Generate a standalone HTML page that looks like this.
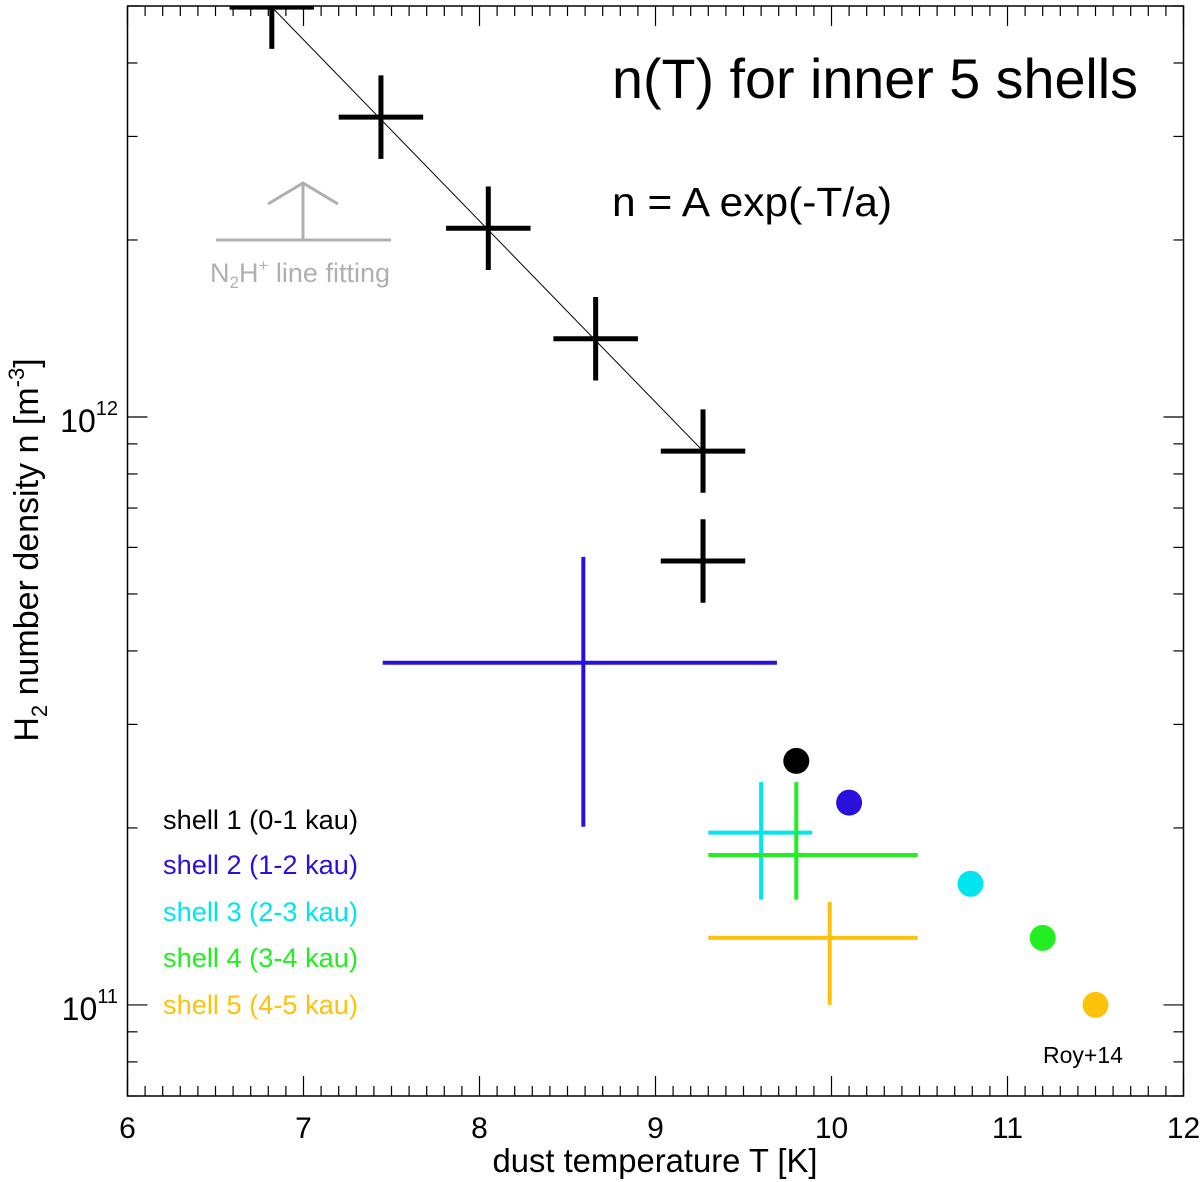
<!DOCTYPE html>
<html><head><meta charset="utf-8"><style>body{margin:0;background:#fff}svg{display:block;font-family:"Liberation Sans",sans-serif}</style></head>
<body>
<svg id="c" width="1200" height="1182" viewBox="0 0 1200 1182" xmlns="http://www.w3.org/2000/svg"></svg>
<script>
const fitT = [6.82, 7.44, 8.05, 8.66, 9.27, 9.27];
const fitLogN = [12.697, 12.51, 12.321, 12.133, 11.942, 11.755];
const fitErrT = [0.24, 0.24, 0.24, 0.24, 0.24, 0.24];
const fitErrLog = [0.071, 0.071, 0.071, 0.071, 0.071, 0.071];
const shellNames = ["shell 1 (0-1 kau)","shell 2 (1-2 kau)","shell 3 (2-3 kau)","shell 4 (3-4 kau)","shell 5 (4-5 kau)"];
const shellColors = ["#000000","#2a10dc","#00e5f0","#22ee22","#ffc20a"];
const lineT = [8.59, 9.6, 9.8, 9.99];
const lineTlo = [7.45, 9.3, 9.3, 9.3];
const lineThi = [9.69, 9.89, 10.49, 10.49];
const lineLogN = [11.582, 11.293, 11.255, 11.114];
const lineLogLo = [11.303, 11.179, 11.179, 11.0];
const lineLogHi = [11.762, 11.379, 11.379, 11.175];
const royT = [9.8, 10.1, 10.79, 11.2, 11.5];
const royLogN = [11.415, 11.344, 11.206, 11.114, 11.0];
const xTicks = [6,7,8,9,10,11,12];

const L=127.5,R=1183.5,T=6,B=1096;
const xMin=6,xMax=12,yMin=Math.log10(7e10),yMax=Math.log10(5e12);
const X=v=>L+(v-xMin)/(xMax-xMin)*(R-L);
const Y=v=>B-(v-yMin)/(yMax-yMin)*(B-T);
const svg=document.getElementById('c');const NS="http://www.w3.org/2000/svg";
function el(tag,attrs,parent){const e=document.createElementNS(NS,tag);for(const k in attrs)e.setAttribute(k,attrs[k]);(parent||svg).appendChild(e);return e;}
function line(x1,y1,x2,y2,stroke,w,p){return el('line',{x1,y1,x2,y2,stroke,'stroke-width':w},p);}

const defs=el('defs',{});const cp=el('clipPath',{id:'pc'},defs);el('rect',{x:L,y:T,width:R-L,height:B-T},cp);

const frame=el('rect',{x:L,y:T,width:R-L,height:B-T,fill:'none',stroke:'#000','stroke-width':1.5});


const xt=el('g',{});

for(let i=0;i<=60;i++){const v=6+i*0.1;const x=X(v);const len=(i%10===0)?20:10;
  line(x,B,x,B-len,'#000',1.2,xt);line(x,T,x,T+len,'#000',1.2,xt);}
xTicks.forEach(v=>{const t=el('text',{x:X(v),y:1138,'font-size':30,'text-anchor':'middle'});t.textContent=v;
  });
const yt=el('g',{});

for(let d=10;d<=12;d++)for(let m=1;m<=9;m++){const lv=d+Math.log10(m);if(lv<yMin||lv>yMax)continue;const y=Y(lv);const len=m===1?20:10;
  line(L,y,L+len,y,'#000',1.2,yt);line(R,y,R-len,y,'#000',1.2,yt);}
[[12,'12'],[11,'11']].forEach(([d,s])=>{const t=el('text',{x:118,y:Y(d)+15,'font-size':32,'text-anchor':'end'});
  t.innerHTML='10<tspan dy="-17" font-size="20">'+s+'</tspan>';
  });

const xl=el('text',{x:655,y:1172,'font-size':33,'text-anchor':'middle',textLength:325,lengthAdjust:'spacingAndGlyphs'});xl.textContent='dust temperature T [K]';

const yl=el('text',{x:0,y:0,'font-size':34,'text-anchor':'middle',transform:'translate(38,550) rotate(-90)'});
yl.innerHTML='H<tspan dy="9" font-size="22">2</tspan><tspan dy="-9"> number density n [m</tspan><tspan dy="-14" font-size="22">-3</tspan><tspan dy="14">]</tspan>';


const g=el('g',{'clip-path':'url(#pc)'});
const fl=line(X(fitT[0]),Y(fitLogN[0]),X(fitT[4]),Y(fitLogN[4]),'#000',1,g);

fitT.forEach((t,i)=>{const gg=el('g',{},g);
  
  line(X(t-fitErrT[i]),Y(fitLogN[i]),X(t+fitErrT[i]),Y(fitLogN[i]),'#000',5,gg);
  line(X(t),Y(fitLogN[i]-fitErrLog[i]),X(t),Y(fitLogN[i]+fitErrLog[i]),'#000',5,gg);});
lineT.forEach((t,i)=>{const gg=el('g',{},g);
  
  const c=shellColors[i+1];
  line(X(lineTlo[i]),Y(lineLogN[i]),X(lineThi[i]),Y(lineLogN[i]),c,4,gg);
  line(X(t),Y(lineLogLo[i]),X(t),Y(lineLogHi[i]),c,4,gg);});
royT.forEach((t,i)=>{const c=el('circle',{cx:X(t),cy:Y(royLogN[i]),r:13,fill:shellColors[i]},g);
  });

const an=el('g',{stroke:'#b0b0b0','stroke-width':3,fill:'none'});

line(216,240,391,240,'#b0b0b0',3,an);line(303,240,303,183,'#b0b0b0',3,an);
el('polyline',{points:'268,204 303,183 338,204'},an);
const at=el('text',{x:210,y:282,'font-size':27,fill:'#b0b0b0'});
at.innerHTML='N<tspan dy="6" font-size="17">2</tspan><tspan dy="-6">H</tspan><tspan dy="-11" font-size="17">+</tspan><tspan dy="11"> line fitting</tspan>';


const tt=el('text',{x:612,y:98,'font-size':56,textLength:526,lengthAdjust:'spacingAndGlyphs'});tt.textContent='n(T) for inner 5 shells';

const eq=el('text',{x:612,y:216,'font-size':41,textLength:280,lengthAdjust:'spacingAndGlyphs'});eq.textContent='n = A exp(-T/a)';

const legY=[829,874,921,967,1014];
shellNames.forEach((s,i)=>{const t=el('text',{x:163,y:legY[i],'font-size':27,fill:shellColors[i],textLength:195,lengthAdjust:'spacingAndGlyphs'});t.textContent=s;
  });
const roy=el('text',{x:1043,y:1063,'font-size':23});roy.textContent='Roy+14';

</script>
</body></html>
